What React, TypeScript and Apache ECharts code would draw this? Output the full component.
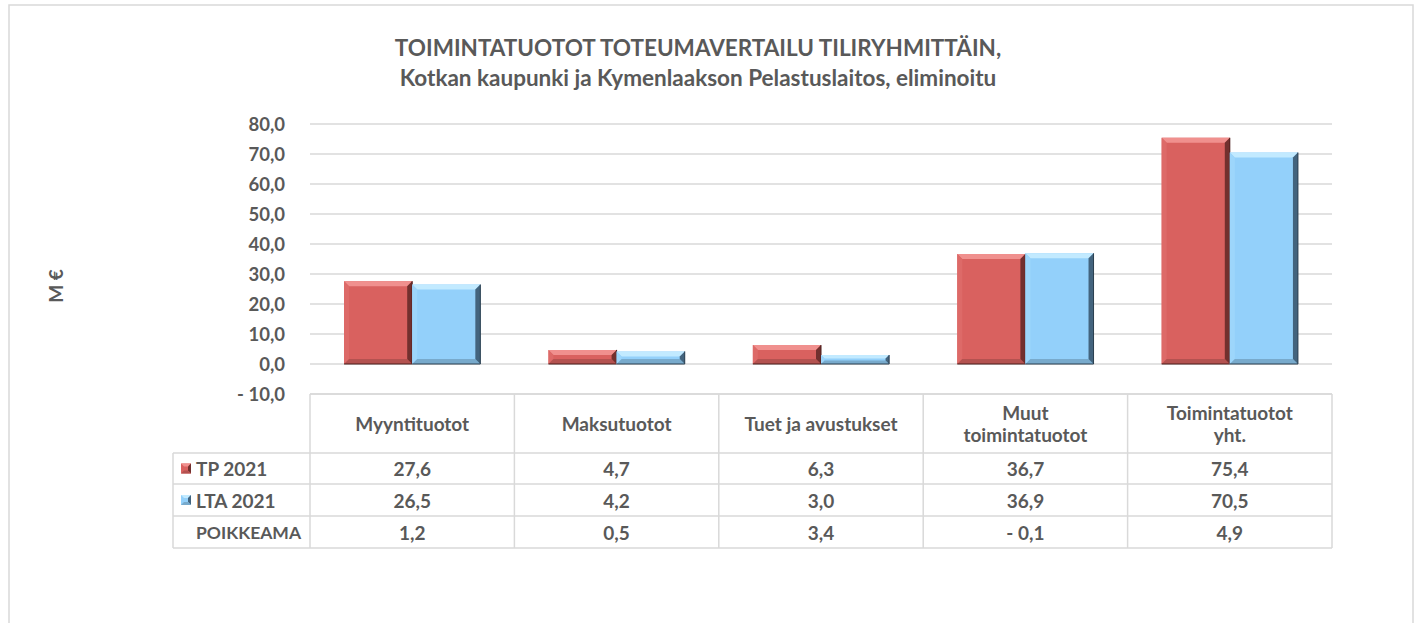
import React, { useEffect, useRef } from "react";
import * as echarts from "echarts";

const categories = ["Myyntituotot", "Maksutuotot", "Tuet ja avustukset", "Muut\ntoimintatuotot", "Toimintatuotot\nyht."];
const seriesNames = ["TP 2021", "LTA 2021"];
const tp2021 = [27.6, 4.7, 6.3, 36.7, 75.4];
const lta2021 = [26.5, 4.2, 3.0, 36.9, 70.5];
const poikkeamaLabel = "POIKKEAMA";
const poikkeama = [1.2, 0.5, 3.4, -0.1, 4.9];
const titleLines = ["TOIMINTATUOTOT TOTEUMAVERTAILU TILIRYHMITTÄIN,", "Kotkan kaupunki ja Kymenlaakson Pelastuslaitos, eliminoitu"];
const yAxisName = "M €";
const yMin = -10;
const yMax = 80;
const yInterval = 10;

const FONT = "Lato, 'Open Sans', sans-serif";
const TXT = "#595959";
const LINE = "#D9D9D9";

const W = 1419;
const H = 623;
const GRID_L = 310;
const GRID_R = 1332;
const GRID_T = 124;
const GRID_B = 394;
const ROWS = [394, 453, 484, 516, 548];
const TABLE_L = 173;

const palettes = [
  { main: "#D9615F", top: "#F0908E", left: "#DD6A68", right: "#72302E", bottom: "#B45250", edge: "#4A1C1B" },
  { main: "#93D0FA", top: "#C2EAFF", left: "#9DD6FB", right: "#43647E", bottom: "#78AACC", edge: "#2A3E4E" },
];

const fmt = (v: number) => (v < 0 ? "- " + Math.abs(v).toFixed(1).replace(".", ",") : v.toFixed(1).replace(".", ","));

function bevelBar(sIdx: number) {
  return (params: any, api: any) => {
    const idx = api.value(0);
    const v = api.value(1);
    const catW = api.size([1, 0])[0];
    const bw = catW / 3;
    const c = api.coord([idx, v]);
    const base = api.coord([idx, 0]);
    const x0 = sIdx === 0 ? c[0] - bw : c[0];
    const x1 = x0 + bw;
    const yT = Math.min(c[1], base[1]);
    const yB = Math.max(c[1], base[1]);
    const b = Math.min(5, (yB - yT) / 2.5, bw / 2);
    const p = palettes[sIdx];
    return {
      type: "group",
      children: [
        { type: "rect", shape: { x: x0, y: yT, width: bw, height: yB - yT }, style: { fill: p.main } },
        { type: "polygon", shape: { points: [[x0, yT], [x1, yT], [x1 - b, yT + b], [x0 + b, yT + b]] }, style: { fill: p.top } },
        { type: "polygon", shape: { points: [[x0, yT], [x0 + b, yT + b], [x0 + b, yB - b], [x0, yB]] }, style: { fill: p.left } },
        { type: "polygon", shape: { points: [[x0, yB], [x0 + b, yB - b], [x1 - b, yB - b], [x1, yB]] }, style: { fill: p.bottom } },
        { type: "polygon", shape: { points: [[x1, yT], [x1, yB], [x1 - b, yB - b], [x1 - b, yT + b]] }, style: { fill: p.right } },
        { type: "polyline", shape: { points: [[x1, yT], [x1, yB], [x0, yB]] }, style: { stroke: p.edge, lineWidth: 1, fill: "none" } },
      ],
    };
  };
}

function swatch(x: number, y: number, s: number, p: any) {
  const b = 3;
  return {
    type: "group",
    children: [
      { type: "rect", shape: { x, y, width: s, height: s }, style: { fill: p.main } },
      { type: "polygon", shape: { points: [[x, y], [x + s, y], [x + s - b, y + b], [x + b, y + b]] }, style: { fill: p.top } },
      { type: "polygon", shape: { points: [[x + s, y], [x + s, y + s], [x + s - b, y + s - b], [x + s - b, y + b]] }, style: { fill: p.right } },
      { type: "polygon", shape: { points: [[x, y + s], [x + b, y + s - b], [x + s - b, y + s - b], [x + s, y + s]] }, style: { fill: p.bottom } },
    ],
  };
}

export default function App() {
  const ref = useRef<HTMLDivElement>(null);
  useEffect(() => {
    if (!ref.current) return;
    const chart = echarts.init(ref.current, null, { renderer: "svg" });
    const option: any = {
      animation: false,
      backgroundColor: "#FFFFFF",
      title: {
        text: titleLines.join("\n"),
        left: 693,
        top: 27,
        textAlign: "center",
        textStyle: { fontFamily: FONT, fontSize: 22.5, fontWeight: "bold", color: TXT, lineHeight: 30 },
      },
      grid: { left: GRID_L, right: W - GRID_R, top: GRID_T, bottom: H - GRID_B, containLabel: false },
      xAxis: {
        type: "category",
        data: categories,
        axisLine: { show: false },
        axisTick: { show: false },
        axisLabel: { show: false },
        splitLine: { show: false },
      },
      yAxis: {
        type: "value",
        min: yMin,
        max: yMax,
        interval: yInterval,
        axisLine: { show: false },
        axisTick: { show: false },
        axisLabel: { formatter: fmt, fontFamily: FONT, fontSize: 18.5, fontWeight: "bold", color: TXT, margin: 25 },
        splitLine: { lineStyle: { color: LINE, width: 1.5 } },
      },
      series: [
        { type: "custom", name: seriesNames[0], renderItem: bevelBar(0), encode: { x: 0, y: 1 }, data: tp2021.map((v, i) => [i, v]), z: 3 },
        { type: "custom", name: seriesNames[1], renderItem: bevelBar(1), encode: { x: 0, y: 1 }, data: lta2021.map((v, i) => [i, v]), z: 3 },
      ],
    };
    chart.setOption(option);

    const colX: number[] = categories.map((_, i) => chart.convertToPixel({ xAxisIndex: 0 }, i) as number);
    const catW = colX.length > 1 ? colX[1] - colX[0] : 200;
    const bounds = [GRID_L, ...colX.map((x) => x + catW / 2)];
    const els: any[] = [];
    const ln = (x1: number, y1: number, x2: number, y2: number) =>
      els.push({ type: "line", shape: { x1, y1, x2, y2 }, style: { stroke: LINE, lineWidth: 1.5 }, z: 1 });
    // frame
    els.push({ type: "rect", shape: { x: 9, y: 5, width: 1404, height: 640 }, style: { fill: "none", stroke: LINE, lineWidth: 1.5 }, z: 0 });
    // horizontal table lines
    ln(GRID_L, ROWS[0], GRID_R, ROWS[0]);
    for (let r = 1; r < ROWS.length; r++) ln(TABLE_L, ROWS[r], GRID_R, ROWS[r]);
    // vertical lines
    ln(TABLE_L, ROWS[1], TABLE_L, ROWS[4]);
    bounds.forEach((x) => ln(x, ROWS[0], x, ROWS[4]));
    const txtStyle = (text: string) => ({ text, fontFamily: FONT, fontSize: 19, fontWeight: "bold", fill: TXT, align: "center", verticalAlign: "middle", lineHeight: 22 });
    // header
    categories.forEach((c, i) => {
      els.push({ type: "text", x: colX[i], y: (ROWS[0] + ROWS[1]) / 2, style: txtStyle(c), z: 2 });
    });
    const rows = [tp2021, lta2021, poikkeama];
    const labels = [seriesNames[0], seriesNames[1], poikkeamaLabel];
    rows.forEach((vals, r) => {
      const yc = (ROWS[r + 1] + ROWS[r + 2]) / 2;
      vals.forEach((v, i) => els.push({ type: "text", x: colX[i], y: yc, style: txtStyle(fmt(v)), z: 2 }));
      const lblStyle: any = { ...txtStyle(labels[r]), align: "left" };
      if (r === 2) lblStyle.fontSize = 17.5;
      els.push({ type: "text", x: 196, y: yc, style: lblStyle, z: 2 });
      if (r < 2) els.push({ ...swatch(181, yc - 5, 10, palettes[r]), z: 2 });
    });
    // y axis name
    els.push({ type: "text", x: 55, y: 286, rotation: Math.PI / 2, style: txtStyle(yAxisName), z: 2 });
    chart.setOption({ graphic: { elements: els } });

    return () => chart.dispose();
  }, []);
  return <div ref={ref} style={{ position: "fixed", left: 0, top: 0, width: W, height: H }} />;
}
